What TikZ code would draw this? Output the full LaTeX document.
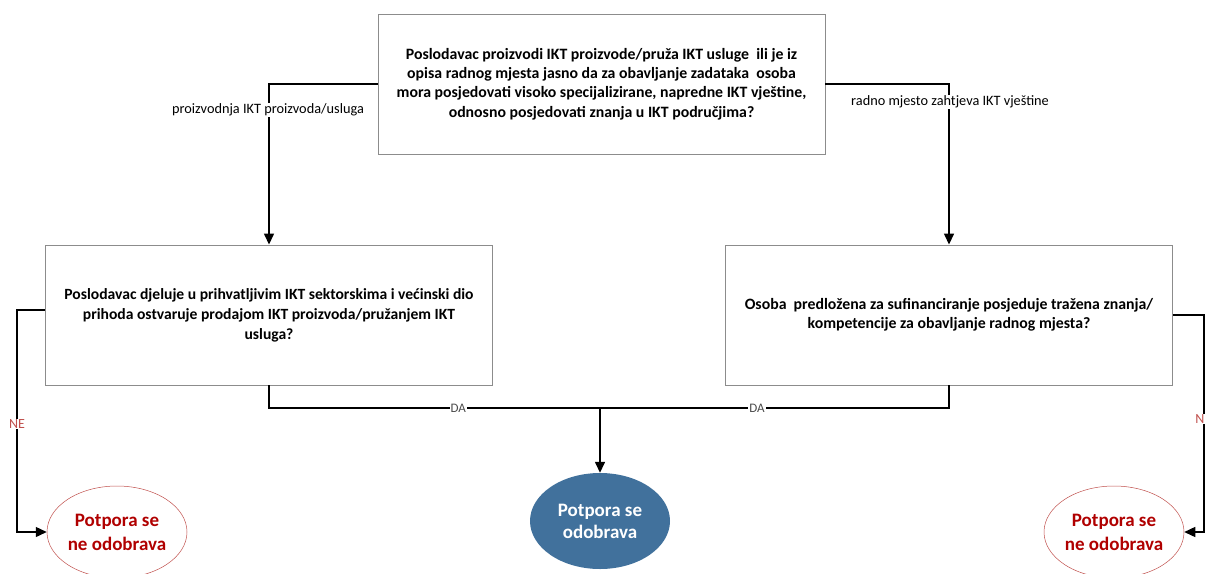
\documentclass[tikz,border=0pt]{standalone}
\usepackage{fontspec}
\setmainfont{Carlito}
\usetikzlibrary{shapes.geometric,arrows.meta}
\definecolor{boxgray}{HTML}{8C8C8C}
\definecolor{darkred}{HTML}{B00000}
\definecolor{ellred}{HTML}{C0504D}
\definecolor{blueell}{HTML}{41719C}
\begin{document}
\begin{tikzpicture}[x=1pt,y=-1pt,
  qbox/.style={draw=boxgray,line width=0.9pt,rectangle,minimum width=447pt,minimum height=140pt,align=center,inner sep=0pt,font=\bfseries\fontsize{15.8}{19.3}\selectfont},
  conn/.style={draw=black,line width=1.4pt},
  arr/.style={conn,-{Triangle[length=11pt,width=10pt]}},
  lab/.style={font=\fontsize{14.3}{16}\selectfont,fill=white,inner sep=1pt},
  dalab/.style={font=\fontsize{13}{15}\selectfont,text=black!70,fill=white,inner sep=1pt},
  nolab/.style={font=\fontsize{14}{16}\selectfont,text=ellred,fill=white,inner sep=1pt},
  noell/.style={ellipse,draw=ellred,line width=0.5pt,minimum width=140pt,minimum height=92pt,align=center,inner sep=0pt,text=darkred,font=\bfseries\fontsize{19}{24}\selectfont},
  yesell/.style={ellipse,fill=blueell,minimum width=140pt,minimum height=96pt,align=center,inner sep=0pt,text=white,font=\bfseries\fontsize{19}{22}\selectfont}
]
\useasboundingbox (0,0) rectangle (1207,573);
\node[qbox] (top) at (601.5,84) {Poslodavac proizvodi IKT proizvode/pruža IKT usluge\ \ ili je iz\\opisa radnog mjesta jasno da za obavljanje zadataka\ \ osoba\\mora posjedovati visoko specijalizirane, napredne IKT vještine,\\odnosno posjedovati znanja u IKT područjima?};
\node[qbox,font=\bfseries\fontsize{15.6}{20}\selectfont] (left) at (269,315) {Poslodavac djeluje u prihvatljivim IKT sektorskima i većinski dio\\prihoda ostvaruje prodajom IKT proizvoda/pružanjem IKT\\usluga?};
\node[qbox] (right) at (949,315) {Osoba\ \ predložena za sufinanciranje posjeduje tražena znanja/\\kompetencije za obavljanje radnog mjesta?};
\node[yesell] (yes) at (600,521) {Potpora se\\odobrava};
\node[noell] (no1) at (117,532) {Potpora se\\ne odobrava};
\node[noell] (no2) at (1114,532) {Potpora se\\ne odobrava};
\coordinate (j) at (600,408);
\coordinate (cl) at (17,310);
\coordinate (cr) at (1204,315);

\draw[arr] (top.west) -| (left.north);
\draw[arr] (top.east) -| (right.north);
\node[lab] at (268,110) {proizvodnja IKT proizvoda/usluga};
\node[lab,anchor=west] at (850,102) {radno mjesto zahtjeva IKT vještine};

\draw[conn] (left.south) |- node[pos=0.786,dalab]{DA} (j);
\draw[conn] (right.south) |- node[pos=0.775,dalab]{DA} (j);
\draw[arr] (j) -- (yes.north);

\draw[arr] ([yshift=5pt]left.west) -- (cl) |- (no1.west);
\node[nolab] at (17,424) {NE};
\draw[arr] (right.east) -- (cr) |- (no2.east);
\node[nolab] at (1200,419) {N};
\end{tikzpicture}
\end{document}
